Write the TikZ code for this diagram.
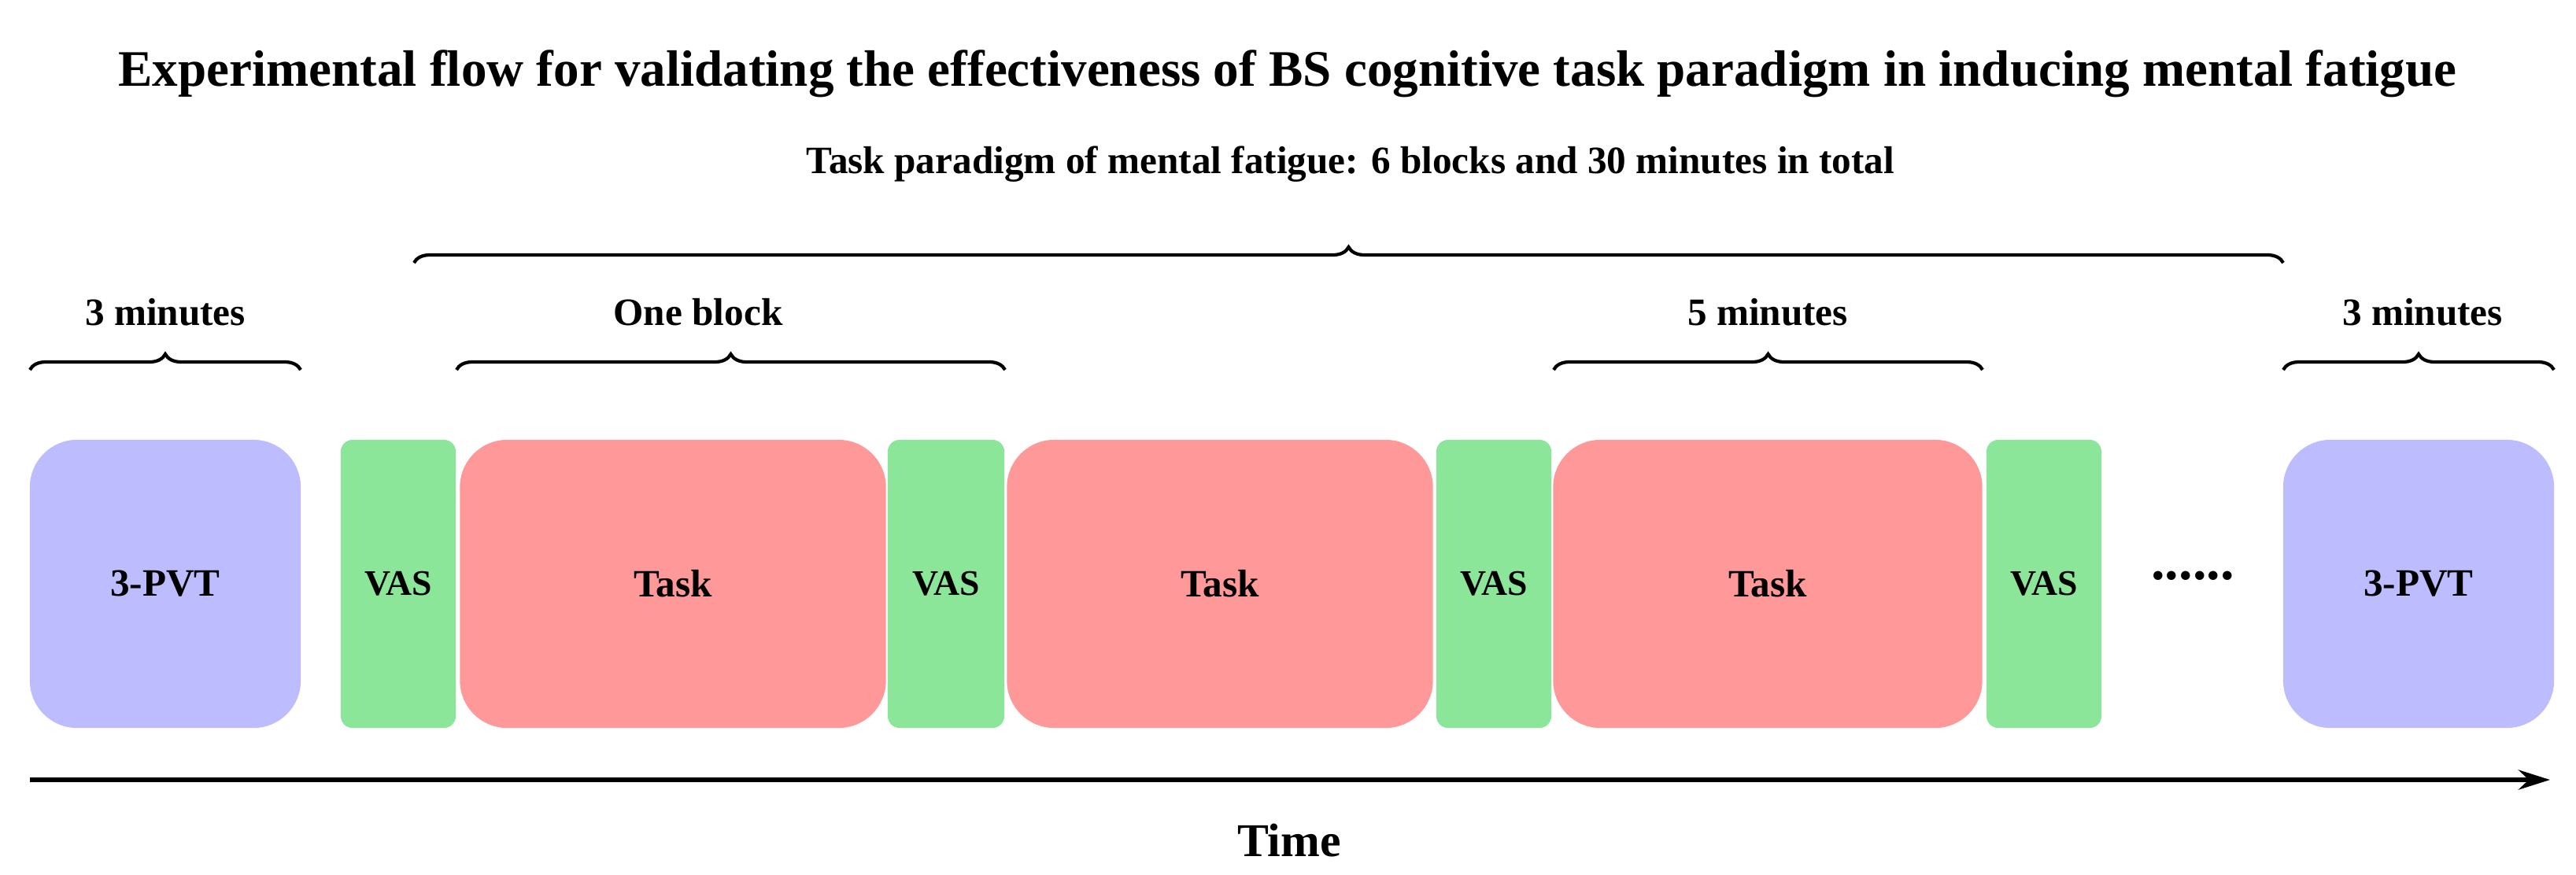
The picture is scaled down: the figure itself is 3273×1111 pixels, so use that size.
\documentclass[tikz,border=0pt]{standalone}
\usepackage{fontspec}
\setmainfont{Liberation Serif}
\usetikzlibrary{decorations.pathreplacing,arrows.meta}
\begin{document}
\begin{tikzpicture}[x=0.01cm,y=-0.01cm,
  box/.style={draw=none,minimum height=3.66cm,inner sep=0pt},
  pvt/.style={box,fill=pvtc,rounded corners=0.6cm,font=\bfseries\fontsize{14}{16}\selectfont},
  task/.style={box,fill=taskc,rounded corners=0.6cm,font=\bfseries\fontsize{14}{16}\selectfont},
  vas/.style={box,fill=vasc,rounded corners=0.15cm,font=\bfseries\fontsize{13}{15}\selectfont},
  lbl/.style={font=\bfseries\fontsize{14}{16}\selectfont},
  br/.style={decorate,decoration={brace,amplitude=0.2cm},line width=1.2pt}]
\definecolor{pvtc}{HTML}{BCBCFF}
\definecolor{taskc}{HTML}{FF9999}
\definecolor{vasc}{HTML}{8CE699}
\useasboundingbox (0,0) rectangle (3273,1111);
\node[font=\bfseries\fontsize{18.5}{22}\selectfont] (title) at (1636,94) {Experimental flow for validating the effectiveness of BS cognitive task paradigm in inducing mental fatigue};
\node[lbl] (sub) at (1716,209) {Task paradigm of mental fatigue: 6 blocks and 30 minutes in total};
\node[pvt,minimum width=3.44cm] (p1) at (210,742) {3-PVT};
\node[vas,minimum width=1.46cm] (v1) at (506,742) {VAS};
\node[task,minimum width=5.41cm] (t1) at (855,742) {Task};
\node[vas,minimum width=1.48cm] (v2) at (1202,742) {VAS};
\node[task,minimum width=5.41cm] (t2) at (1550,742) {Task};
\node[vas,minimum width=1.46cm] (v3) at (1898,742) {VAS};
\node[task,minimum width=5.45cm] (t3) at (2246,742) {Task};
\node[vas,minimum width=1.46cm] (v4) at (2597,742) {VAS};
\node[font=\bfseries\fontsize{20}{22}\selectfont] (dots) at (2786,732) {......};
\node[pvt,minimum width=3.44cm] (p2) at (3073,742) {3-PVT};
\draw[br] (526,334) -- (2901,334);
\draw[br] (38,470) -- (382,470);
\draw[br] (580,470) -- (1277,470);
\draw[br] (1974,470) -- (2519,470);
\draw[br] (2901,470) -- (3245,470);
\node[lbl] (m1) at (210,397) {3 minutes};
\node[lbl] (ob) at (887,397) {One block};
\node[lbl] (m5) at (2246,397) {5 minutes};
\node[lbl] (m2) at (3078,397) {3 minutes};
\coordinate (a0) at (38,991);
\coordinate (a1) at (3240,991);
\draw[line width=1.8pt,-{Stealth[length=0.4cm,width=0.25cm]}] (a0) -- (a1);
\node[font=\bfseries\fontsize{17}{20}\selectfont] (time) at (1638,1068) {Time};
\end{tikzpicture}
\end{document}
